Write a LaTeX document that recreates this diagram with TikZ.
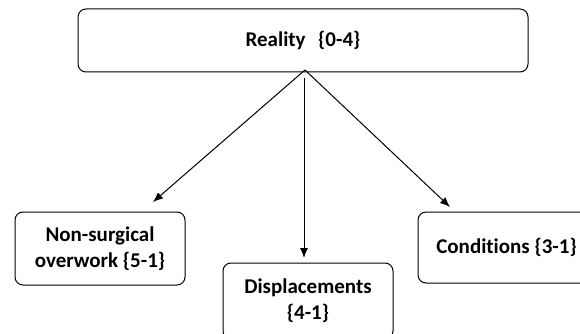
\documentclass[tikz,border=0pt]{standalone}
\usepackage{fontspec}
\setmainfont{Carlito}[Ligatures=NoCommon]
\usetikzlibrary{arrows.meta}
\begin{document}
\begin{tikzpicture}[x=1pt,y=-1pt,
  box/.style={draw,line width=1pt,rounded corners=8pt,align=center,
    font=\fontsize{21}{26}\selectfont\bfseries,inner sep=0pt},
  arr/.style={line width=1pt,-{Latex[length=10pt,width=8pt]}}]
\useasboundingbox (0,0) rectangle (580,334);
\node[box,minimum width=450pt,minimum height=63pt] (top) at (303,40.5) {Reality\hspace{0.6em}\{0-4\}};
\node[box,minimum width=170pt,minimum height=73pt] (left) at (100,248.5) {Non-surgical\\overwork \{5-1\}};
\node[box,minimum width=170pt,minimum height=76pt] (mid) at (308,301) {Displacements\\\{4-1\}};
\node[box,minimum width=177pt,minimum height=71pt] (right) at (506.5,247.5) {Conditions \{3-1\}};
\coordinate (apex) at (305,70);
\coordinate (vstart) at (304,78);
\coordinate (tipL) at (153,202);
\coordinate (tipR) at (450,207);
\coordinate (tipM) at (304,258);
\draw[arr] (apex) -- (tipL);
\draw[arr] (apex) -- (tipR);
\draw[arr] (vstart) -- (tipM);
\end{tikzpicture}
\end{document}
